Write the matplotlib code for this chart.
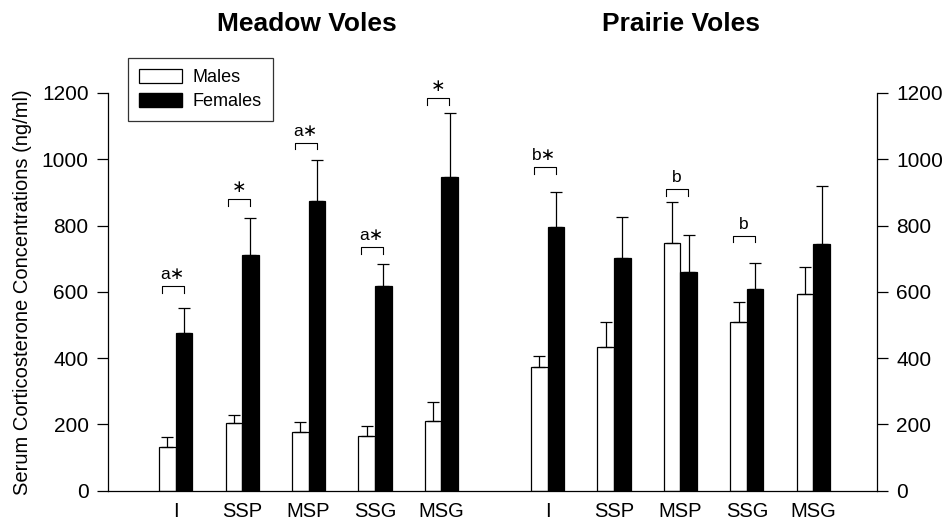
import matplotlib
matplotlib.use('Agg')
import matplotlib.pyplot as plt
from matplotlib.patches import Patch
import numpy as np

plt.rcParams['font.family'] = ['Liberation Sans', 'DejaVu Sans']

# groups
groups = ['I', 'SSP', 'MSP', 'SSG', 'MSG']

# Meadow voles
meadow_m = [133, 203, 176, 165, 211]
meadow_m_err = [28, 25, 30, 30, 57]
meadow_f = [477, 711, 874, 619, 947]
meadow_f_err = [73, 113, 124, 65, 192]

# Prairie voles
prairie_m = [374, 433, 746, 508, 594]
prairie_m_err = [33, 77, 126, 62, 80]
prairie_f = [797, 701, 661, 610, 744]
prairie_f_err = [103, 126, 111, 76, 176]

# significance marks and bracket levels
meadow_sig = ['a\u2217', '\u2217', 'a\u2217', 'a\u2217', '\u2217']
meadow_br = [617, 879, 1050, 734, 1184]
prairie_sig = ['b\u2217', '', 'b', 'b', '']
prairie_br = [977, None, 909, 769, None]

fig = plt.figure(figsize=(9.48, 5.21), dpi=100)
ax = fig.add_axes([0.1139, 0.058, 0.8112, 0.7635])

w = 0.25
xm = np.arange(1, 6)
xp = xm + 5.6

def draw(x, m, me, f, fe):
    ax.bar(x - w / 2, m, w, color='white', edgecolor='black', linewidth=0.9)
    ax.bar(x + w / 2, f, w, color='black', edgecolor='black', linewidth=0.9)
    ax.errorbar(x - w / 2, m, yerr=[np.zeros(5), me], fmt='none', ecolor='black',
                elinewidth=0.9, capsize=4, capthick=0.9)
    ax.errorbar(x + w / 2, f, yerr=[np.zeros(5), fe], fmt='none', ecolor='black',
                elinewidth=0.9, capsize=4, capthick=0.9)

draw(xm, meadow_m, meadow_m_err, meadow_f, meadow_f_err)
draw(xp, prairie_m, prairie_m_err, prairie_f, prairie_f_err)

def brackets(x, sig, lev):
    for c, s, y in zip(x, sig, lev):
        if y is None:
            continue
        ax.plot([c - 0.21, c - 0.21, c + 0.12, c + 0.12], [y - 20, y, y, y - 20],
                color='black', lw=0.8)
        ax.text(c - 0.05, y + 12, s, ha='center', va='bottom', fontsize=12.5)

brackets(xm, meadow_sig, meadow_br)
brackets(xp, prairie_sig, prairie_br)

ax.set_xlim(-0.02, 11.56)
ax.set_ylim(0, 1200)
ax.set_yticks([0, 200, 400, 600, 800, 1000, 1200])
ax.set_xticks(np.concatenate([xm, xp]))
ax.set_xticklabels(groups + groups, fontsize=14.5)
ax.tick_params(axis='x', length=0, pad=8)
ax.tick_params(axis='y', direction='out', length=8, width=0.9, labelsize=15,
               right=True, labelright=True, pad=6)
ax.spines['top'].set_visible(False)
for s in ['left', 'right', 'bottom']:
    ax.spines[s].set_linewidth(0.9)

ax.set_ylabel('Serum Corticosterone Concentrations (ng/ml)', fontsize=14.5, labelpad=7)

fig.text(307 / 948, 1 - 24 / 521, 'Meadow Voles', ha='center', va='center',
         fontsize=19, fontweight='bold')
fig.text(681 / 948, 1 - 24 / 521, 'Prairie Voles', ha='center', va='center',
         fontsize=19, fontweight='bold')

handles = [Patch(facecolor='white', edgecolor='black', linewidth=0.9, label='Males'),
           Patch(facecolor='black', edgecolor='black', label='Females')]
leg = ax.legend(handles=handles, loc='upper left', bbox_to_anchor=(0.026, 1.088),
                borderaxespad=0, fontsize=13, frameon=True, fancybox=False,
                edgecolor='black', handlelength=2.4, handleheight=0.85,
                handletextpad=0.6, borderpad=0.6, labelspacing=0.35)
leg.get_frame().set_linewidth(0.9)

fig.savefig('out.png', dpi=100)
